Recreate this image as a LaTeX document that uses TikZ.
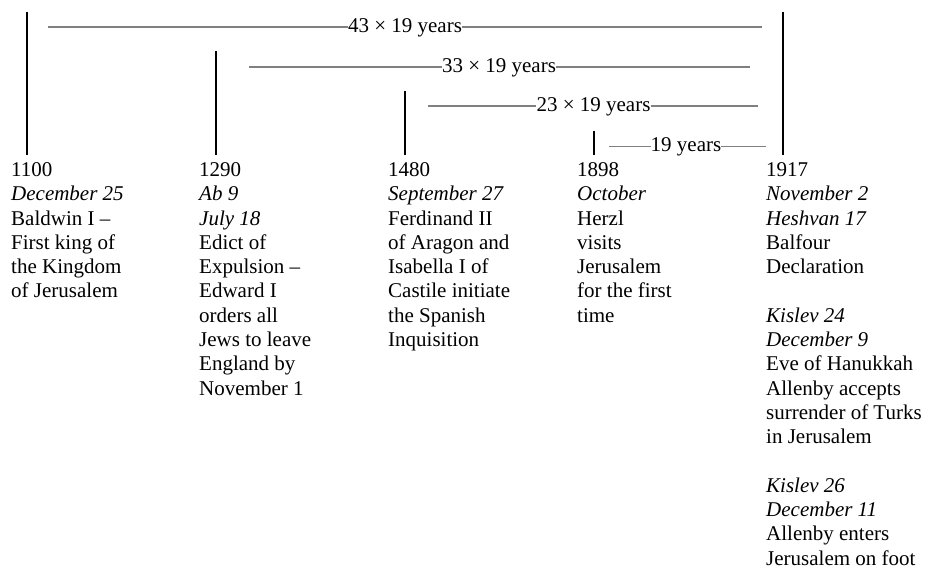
\documentclass[tikz,border=0pt]{standalone}
\usepackage{fontspec}
\setmainfont{Liberation Serif}
\definecolor{spangray}{RGB}{128,128,128}
\tikzset{
  yearline/.style={line width=2pt, black},
  spanline/.style={line width=1.2pt, spangray},
  spanlabel/.style={anchor=base, inner sep=0pt, font=\fontsize{21}{24.3}\selectfont},
  eventtext/.style={anchor=base west, inner sep=0pt, font=\fontsize{21}{24.3}\selectfont},
}
\newcommand{\evcol}[1]{\parbox[t]{175pt}{\fontsize{21}{24.3}\selectfont\raggedright #1}}
\begin{document}
\begin{tikzpicture}[x=1pt,y=-1pt]
\useasboundingbox (0,0) rectangle (927,572);
% year marks
\coordinate (t1100) at (27,12);  \coordinate (b1100) at (27,155);
\coordinate (t1290) at (216,51); \coordinate (b1290) at (216,155);
\coordinate (t1480) at (405,91); \coordinate (b1480) at (405,155);
\coordinate (t1898) at (594,131); \coordinate (b1898) at (594,155);
\coordinate (t1917) at (783,12); \coordinate (b1917) at (783,155);
\draw[yearline] (t1100) -- (b1100);
\draw[yearline] (t1290) -- (b1290);
\draw[yearline] (t1480) -- (b1480);
\draw[yearline] (t1898) -- (b1898);
\draw[yearline] (t1917) -- (b1917);
% spans
\coordinate (s43a) at (48,27);  \coordinate (s43b) at (762,27);
\node[spanlabel] (l43) at (405,32.3) {43 × 19 years};
\draw[spanline] (s43a) -- (l43.west |- s43a);
\draw[spanline] (l43.east |- s43b) -- (s43b);
\coordinate (s33a) at (249,67);  \coordinate (s33b) at (750,67);
\node[spanlabel] (l33) at (499,72.3) {33 × 19 years};
\draw[spanline] (s33a) -- (l33.west |- s33a);
\draw[spanline] (l33.east |- s33b) -- (s33b);
\coordinate (s23a) at (428,106);  \coordinate (s23b) at (758,106);
\node[spanlabel] (l23) at (593.5,111.3) {23 × 19 years};
\draw[spanline] (s23a) -- (l23.west |- s23a);
\draw[spanline] (l23.east |- s23b) -- (s23b);
\coordinate (s19a) at (609,146.5);  \coordinate (s19b) at (766,146.5);
\node[spanlabel] (l19) at (686,151.5) {19 years};
\draw[spanline] (s19a) -- (l19.west |- s19a);
\draw[spanline] (l19.east |- s19b) -- (s19b);
% events
\node[eventtext] (e1100) at (11,176.5) {\evcol{1100\\\textit{December 25}\\Baldwin I –\\First king of\\the Kingdom\\of Jerusalem}};
\node[eventtext] (e1290) at (199,176.5) {\evcol{1290\\\textit{Ab 9}\\\textit{July 18}\\Edict of\\Expulsion –\\Edward I\\orders all\\Jews to leave\\England by\\November 1}};
\node[eventtext] (e1480) at (388,176.5) {\evcol{1480\\\textit{September 27}\\Ferdinand II\\of Aragon and\\Isabella I of\\Castile initiate\\the Spanish\\Inquisition}};
\node[eventtext] (e1898) at (577,176.5) {\evcol{1898\\\textit{October}\\Herzl\\visits\\Jerusalem\\for the first\\time}};
\node[eventtext] (e1917) at (766,176.5) {\evcol{1917\\\textit{November 2}\\\textit{Heshvan 17}\\Balfour\\Declaration\\[24.3pt]\textit{Kislev 24}\\\textit{December 9}\\Eve of Hanukkah\\Allenby accepts\\surrender of Turks\\in Jerusalem\\[24.3pt]\textit{Kislev 26}\\\textit{December 11}\\Allenby enters\\Jerusalem on foot}};
\end{tikzpicture}
\end{document}
